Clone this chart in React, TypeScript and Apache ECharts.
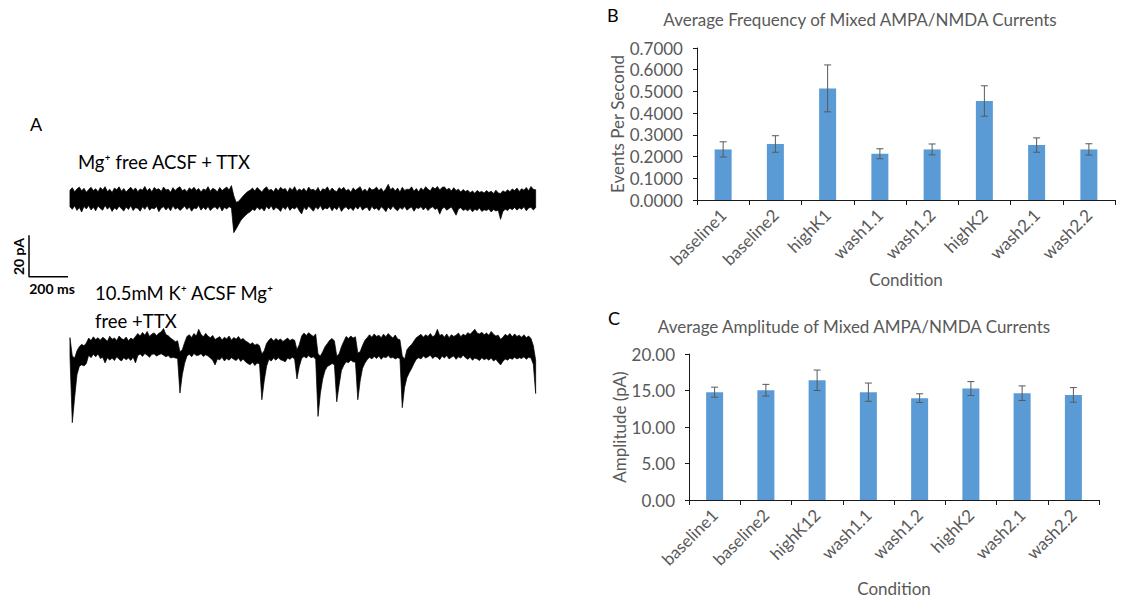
import React, { useEffect, useRef } from 'react';
import * as echarts from 'echarts';

// ---------- Panel B data ----------
const CONDITIONS_B = ['baseline1', 'baseline2', 'highK1', 'wash1.1', 'wash1.2', 'highK2', 'wash2.1', 'wash2.2'];
const FREQ_MEAN = [0.233, 0.258, 0.514, 0.213, 0.233, 0.456, 0.253, 0.233];
const FREQ_ERR = [0.035, 0.038, 0.108, 0.023, 0.025, 0.07, 0.033, 0.026];
const FREQ_MIN = 0;
const FREQ_MAX = 0.7;
const FREQ_STEP = 0.1;

// ---------- Panel C data ----------
const CONDITIONS_C = ['baseline1', 'baseline2', 'highK12', 'wash1.1', 'wash1.2', 'highK2', 'wash2.1', 'wash2.2'];
const AMP_MEAN = [14.77, 15.04, 16.4, 14.77, 13.95, 15.27, 14.63, 14.4];
const AMP_ERR = [0.69, 0.8, 1.4, 1.25, 0.6, 0.95, 1.0, 1.0];
const AMP_MIN = 0;
const AMP_MAX = 20;
const AMP_STEP = 5;

// ---------- Panel A traces: one sample every TRACE_STEP_MS, lower / upper edge of the noise band (pA) ----------
const TRACE_STEP_MS = 12;

const MG_FREE_HI = [
  4.6, 5.8, 3.9, 5.2, 6.1, 4.3, 5.5, 3.6, 4.9, 6.0,
  4.4, 5.3, 3.8, 5.9, 4.7, 6.3, 4.0, 5.1, 3.5, 5.6,
  4.8, 6.2, 4.1, 5.4, 3.7, 5.0, 6.0, 4.5, 5.7, 3.9,
  5.2, 4.6, 6.4, 4.2, 5.5, 3.8, 5.9, 4.9, 5.3, 4.0,
  6.1, 4.7, 5.0, 3.6, 5.8, 4.4, 5.6, 6.2, 4.3, 5.1,
  3.9, 5.7, 4.8, 6.0, 4.5, 5.4, 3.7, 5.2, 4.6, 6.3,
  4.1, 5.5, 4.9, 3.8, 5.9, 4.4, 5.3, 6.1, 4.7, 6.8,
  2.0, -1.2, -0.8, 0.5, 1.8, 3.0, 4.0, 4.6, 5.6, 4.2,
  5.9, 4.8, 3.7, 5.3, 6.2, 4.5, 5.0, 3.9, 5.7, 4.3,
  6.0, 4.9, 5.4, 3.6, 5.8, 4.6, 6.3, 4.0, 5.2, 4.4,
  5.5, 3.8, 6.1, 4.7, 5.0, 4.2, 5.9, 3.7, 5.3, 4.8,
  6.2, 4.1, 5.6, 4.5, 3.9, 5.8, 4.9, 6.0, 4.3, 5.1,
  3.6, 5.7, 4.6, 5.4, 6.3, 4.0, 5.2, 3.8, 5.9, 4.7,
  5.0, 6.1, 4.4, 5.5, 3.9, 5.3, 7.4, 4.8, 5.8, 4.2,
  5.6, 3.7, 6.0, 4.5, 5.1, 4.9, 6.2, 4.1, 5.4, 3.8,
  5.7, 4.6, 6.3, 5.0, 4.3, 6.1, 5.2, 6.4, 4.7, 5.9,
  6.2, 4.8, 5.5, 4.2, 5.8, 4.4, 5.1, 3.7, 4.9, 4.0,
  4.6, 3.4, 4.2, 3.1, 4.5, 3.6, 4.0, 3.2, 4.4, 3.5,
  4.1, 3.0, 4.6, 3.3, 3.0, 4.3, 3.6, 4.8, 3.9, 5.2,
  4.4, 5.6, 4.0, 5.3, 4.6, 5.9, 4.3, 6.4, 5.0, 4.8,
];
const MG_FREE_LO = [
  -3.4, -4.6, -2.9, -5.1, -3.7, -5.9, -3.2, -4.4, -2.8, -4.9,
  -3.6, -5.3, -3.0, -4.2, -5.0, -2.7, -4.5, -3.3, -5.6, -3.9,
  -4.8, -3.1, -4.3, -5.4, -3.5, -4.7, -2.9, -5.2, -3.8, -4.1,
  -5.5, -3.4, -4.6, -2.8, -5.0, -3.9, -4.4, -3.2, -5.7, -4.0,
  -3.3, -4.9, -3.6, -5.3, -2.9, -4.5, -3.8, -5.1, -4.2, -3.0,
  -4.7, -3.5, -5.5, -3.9, -4.3, -2.8, -5.0, -3.6, -4.8, -3.2,
  -5.2, -4.0, -3.4, -4.6, -3.1, -5.4, -3.7, -4.4, -3.3, -4.0,
  -15.8, -14.0, -12.0, -10.0, -8.6, -7.5, -6.5, -5.8, -4.6, -5.2,
  -3.5, -4.8, -3.9, -5.4, -3.2, -4.5, -2.9, -5.0, -3.7, -4.3,
  -5.6, -3.4, -4.7, -3.0, -5.1, -3.8, -4.4, -3.3, -5.3, -6.8,
  -3.6, -4.9, -3.1, -4.2, -5.5, -3.5, -4.6, -2.8, -5.0, -3.9,
  -4.4, -3.2, -5.3, -3.7, -4.8, -3.0, -5.6, -4.1, -3.4, -4.7,
  -3.8, -5.2, -3.3, -4.5, -2.9, -5.0, -4.0, -3.6, -5.4, -3.1,
  -4.6, -3.9, -5.1, -3.4, -4.3, -5.7, -3.5, -4.8, -3.0, -4.4,
  -5.3, -3.7, -4.6, -3.2, -5.0, -4.1, -3.5, -5.5, -3.8, -4.2,
  -3.3, -4.9, -3.6, -5.2, -4.0, -3.4, -4.7, -3.9, -6.9, -4.3,
  -3.6, -5.0, -4.2, -3.5, -5.4, -7.4, -4.4, -3.8, -5.1, -4.6,
  -5.3, -4.2, -5.8, -4.6, -5.1, -4.0, -5.6, -4.8, -5.2, -4.4,
  -5.9, -4.7, -5.4, -5.0, -9.4, -5.6, -4.5, -5.2, -4.1, -4.8,
  -3.7, -5.0, -3.9, -4.6, -3.4, -5.3, -4.0, -3.6, -4.9, -3.8,
];

const HIGH_K_HI = [
  4.8, -4.0, -5.0, -1.5, 0.5, 1.6, 0.9, 2.2, 4.6, 3.4,
  5.2, 3.9, 4.8, 3.6, 5.0, 4.2, 3.1, 5.5, 4.0, 4.7,
  3.4, 5.6, 4.4, 3.8, 5.1, 3.3, 4.6, 3.9, 5.4, 6.8,
  5.6, 7.3, 6.0, 7.8, 5.4, 6.6, 7.1, 5.8, 6.9, 7.6,
  9.2, 6.3, 5.7, 4.6, 3.8, 2.9, 3.3, -2.0, -1.0, 2.5,
  5.4, 6.2, 4.9, 6.8, 5.6, 8.8, 6.4, 5.2, 6.9, 5.5,
  4.8, 5.9, 3.9, 4.6, 5.3, 3.7, 5.0, 4.2, 5.6, 3.6,
  4.9, 4.1, 5.4, 3.8, 4.4, 3.2, 2.6, 1.6, 2.4, 1.2,
  1.8, 0.9, -3.0, -1.5, 2.0, 3.6, 4.6, 3.2, 4.4, 3.5,
  4.2, 3.0, 3.8, 4.6, 3.4, 4.1, 3.6, -1.0, 1.5, 5.6,
  7.0, 5.8, 7.2, 6.2, 5.4, 6.6, -3.0, -4.0, -2.0, 0.5,
  2.0, 3.6, 4.4, 3.2, -4.0, -3.0, 0.5, 3.0, 5.4, 4.4,
  5.6, 4.6, 5.2, -2.5, -2.0, 1.0, 3.5, 4.8, 6.2, 5.0,
  6.6, 5.4, 6.0, 4.8, 6.5, 5.3, 6.8, 5.6, 4.6, 6.1,
  4.2, 3.8, -4.0, -5.5, -1.0, 0.5, 1.5, 3.2, 4.8, 5.6,
  6.4, 5.0, 6.2, 5.4, 6.8, 5.2, 6.0, 8.8, 5.8, 6.4,
  5.0, 6.6, 4.8, 6.2, 5.4, 6.0, 7.0, 5.3, 6.5, 5.8,
  7.2, 6.4, 7.6, 8.8, 7.0, 6.6, 7.4, 6.2, 7.0, 6.0,
  7.8, 6.4, 5.6, 6.0, 4.0, 5.0, 6.4, 5.6, 6.8, 5.2,
  6.6, 5.4, 6.0, 5.0, 6.2, 4.8, 5.6, 4.4, 1.0, -6.0,
];
const HIGH_K_LO = [
  -4.0, -36.0, -24.0, -13.0, -9.0, -8.2, -8.8, -7.6, -3.6, -4.8,
  -3.2, -4.4, -3.0, -5.2, -4.6, -7.3, -4.8, -6.0, -5.0, -6.2,
  -4.4, -5.6, -6.4, -4.8, -5.8, -5.0, -6.1, -4.6, -7.3, -3.8,
  -3.0, -4.2, -2.8, -3.6, -4.6, -3.2, -3.0, -4.0, -3.4, -2.9,
  -3.6, -4.4, -3.8, -5.0, -4.6, -4.9, -5.2, -21.8, -13.0, -7.5,
  -4.0, -3.2, -4.4, -2.8, -3.8, -3.6, -2.9, -4.2, -3.4, -4.0,
  -5.0, -6.0, -8.3, -5.4, -5.8, -4.6, -6.4, -5.2, -6.0, -4.8,
  -5.6, -6.2, -5.0, -6.6, -5.4, -6.8, -7.6, -8.2, -7.0, -8.6,
  -7.4, -7.8, -25.0, -16.0, -9.0, -5.6, -6.4, -5.0, -6.0, -4.8,
  -5.8, -6.2, -6.8, -5.0, -5.6, -4.6, -5.4, -15.0, -9.0, -5.2,
  -4.2, -5.0, -3.8, -4.8, -4.4, -5.6, -33.0, -22.0, -15.0, -11.0,
  -9.0, -8.4, -7.6, -8.2, -26.0, -18.0, -11.0, -8.5, -6.8, -7.2,
  -6.0, -6.8, -7.0, -25.0, -16.0, -10.0, -7.5, -5.8, -4.6, -5.4,
  -4.2, -5.2, -4.0, -5.6, -4.4, -4.8, -3.8, -5.0, -4.6, -5.4,
  -4.8, -5.2, -28.8, -19.0, -14.4, -12.0, -10.0, -7.6, -5.6, -4.8,
  -5.4, -4.0, -5.0, -4.4, -3.6, -5.2, -4.2, -4.6, -5.8, -4.0,
  -5.0, -3.8, -5.4, -4.6, -4.0, -5.6, -4.4, -5.0, -3.6, -4.8,
  -5.6, -4.6, -6.0, -5.0, -5.4, -6.2, -4.8, -5.8, -5.2, -6.0,
  -5.0, -6.4, -5.6, -7.0, -8.3, -6.6, -5.4, -6.0, -5.0, -5.6,
  -4.6, -5.4, -4.8, -5.2, -4.4, -5.6, -4.6, -5.0, -8.0, -22.0,
];

// vertical display offset of the upper trace (pA) and scale bar
const MG_FREE_OFFSET = 71;
const SCALE_BAR_MS = 200;
const SCALE_BAR_PA = 20;
const SCALE_BAR_ORIGIN = [-210, 34];

const FONT = 'Lato, "Liberation Sans", sans-serif';
const GREY = '#595959';
const AXIS_COLOR = '#1a1a1a';
const BAR_BLUE = '#5B9BD5';

function traceSeries(lo: number[], hi: number[], offset: number) {
  return {
    type: 'custom',
    xAxisIndex: 0,
    yAxisIndex: 0,
    silent: true,
    clip: false,
    data: lo.map((v, i) => [i * TRACE_STEP_MS, v + offset, hi[i] + offset]),
    renderItem: (params: any, api: any) => {
      if (params.dataIndex !== 0) return null;
      const top = hi.map((v, i) => api.coord([i * TRACE_STEP_MS, v + offset]));
      const bottom = lo.map((v, i) => api.coord([i * TRACE_STEP_MS, v + offset])).reverse();
      return {
        type: 'polygon',
        shape: { points: top.concat(bottom) },
        style: { fill: '#000', stroke: '#000', lineWidth: 0.7 },
      };
    },
  };
}

function errorSeries(means: number[], errs: number[], axisIndex: number) {
  return {
    type: 'custom',
    xAxisIndex: axisIndex,
    yAxisIndex: axisIndex,
    silent: true,
    z: 10,
    data: means.map((m, i) => [i, m - errs[i], m + errs[i]]),
    encode: { x: 0, y: [1, 2] },
    renderItem: (_params: any, api: any) => {
      const x = api.value(0);
      const lo = api.coord([x, api.value(1)]);
      const hi = api.coord([x, api.value(2)]);
      const w = 3.5;
      const style = { stroke: GREY, lineWidth: 1 };
      return {
        type: 'group',
        children: [
          { type: 'line', shape: { x1: lo[0], y1: lo[1], x2: hi[0], y2: hi[1] }, style },
          { type: 'line', shape: { x1: lo[0] - w, y1: lo[1], x2: lo[0] + w, y2: lo[1] }, style },
          { type: 'line', shape: { x1: hi[0] - w, y1: hi[1], x2: hi[0] + w, y2: hi[1] }, style },
        ],
      };
    },
  };
}

function categoryAxis(gridIndex: number, data: string[], nameGap: number) {
  return {
    type: 'category',
    gridIndex,
    data,
    axisLine: { show: true, lineStyle: { color: AXIS_COLOR, width: 1 } },
    axisTick: { show: true, length: 5, lineStyle: { color: AXIS_COLOR, width: 1 } },
    axisLabel: { rotate: 45, fontSize: 17, color: GREY, margin: 12, fontFamily: FONT, interval: 0 },
    name: 'Condition',
    nameLocation: 'middle',
    nameGap,
    nameTextStyle: { fontSize: 17, color: GREY, fontFamily: FONT },
    splitLine: { show: false },
  };
}

function valueAxis(gridIndex: number, min: number, max: number, interval: number, digits: number, name: string, nameGap: number) {
  return {
    type: 'value',
    gridIndex,
    min,
    max,
    interval,
    axisLine: { show: true, lineStyle: { color: AXIS_COLOR, width: 1 } },
    axisTick: { show: true, length: 4, lineStyle: { color: AXIS_COLOR, width: 1 } },
    axisLabel: { fontSize: 17, color: GREY, margin: 14, fontFamily: FONT, formatter: (v: number) => v.toFixed(digits) },
    splitLine: { show: false },
    name,
    nameLocation: 'middle',
    nameRotate: 90,
    nameGap,
    nameTextStyle: { fontSize: 17, color: GREY, fontFamily: FONT },
  };
}

function txt(x: number, y: number, text: string, opts: any = {}) {
  return {
    type: 'text',
    x,
    y,
    rotation: opts.rotation || 0,
    silent: true,
    style: {
      text,
      fill: opts.fill || '#000',
      font: `${opts.weight || 'normal'} ${opts.size || 18}px ${FONT}`,
      textAlign: opts.align || 'left',
      textVerticalAlign: 'middle',
    },
  };
}

export default function App() {
  const ref = useRef<HTMLDivElement>(null);
  useEffect(() => {
    const chart = echarts.init(ref.current!, null, { renderer: 'svg' });
    const [sbT, sbV] = SCALE_BAR_ORIGIN;
    const option: any = {
      animation: false,
      backgroundColor: '#fff',
      grid: [
        { left: 29, top: 181, width: 509, height: 250 },
        { left: 697, top: 48, width: 418, height: 152 },
        { left: 689, top: 354, width: 410, height: 146 },
      ],
      xAxis: [
        { type: 'value', gridIndex: 0, min: -210, max: 2400, show: false },
        categoryAxis(1, CONDITIONS_B, 70),
        categoryAxis(2, CONDITIONS_C, 80),
      ],
      yAxis: [
        { type: 'value', gridIndex: 0, min: -40, max: 80, show: false },
        valueAxis(1, FREQ_MIN, FREQ_MAX, FREQ_STEP, 4, 'Events Per Second', 67),
        valueAxis(2, AMP_MIN, AMP_MAX, AMP_STEP, 2, 'Amplitude (pA)', 57),
      ],
      series: [
        traceSeries(MG_FREE_LO, MG_FREE_HI, MG_FREE_OFFSET),
        traceSeries(HIGH_K_LO, HIGH_K_HI, 0),
        {
          type: 'line',
          xAxisIndex: 0,
          yAxisIndex: 0,
          silent: true,
          symbol: 'none',
          lineStyle: { color: '#000', width: 1.5 },
          data: [
            [sbT + SCALE_BAR_MS, sbV],
            [sbT, sbV],
            [sbT, sbV + SCALE_BAR_PA],
          ],
        },
        {
          type: 'bar',
          xAxisIndex: 1,
          yAxisIndex: 1,
          data: FREQ_MEAN,
          barWidth: 17,
          itemStyle: { color: BAR_BLUE },
          silent: true,
        },
        errorSeries(FREQ_MEAN, FREQ_ERR, 1),
        {
          type: 'bar',
          xAxisIndex: 2,
          yAxisIndex: 2,
          data: AMP_MEAN,
          barWidth: 17,
          itemStyle: { color: BAR_BLUE },
          silent: true,
        },
        errorSeries(AMP_MEAN, AMP_ERR, 2),
      ],
      graphic: [
        txt(30, 124, 'A', { size: 18 }),
        txt(78, 162, 'Mg⁺ free ACSF + TTX', { size: 18.5 }),
        txt(95, 293, '10.5mM K⁺ ACSF Mg⁺', { size: 18.5 }),
        txt(95, 321, 'free +TTX', { size: 18.5 }),
        txt(18, 256.5, '20 pA', { size: 14, weight: 'bold', align: 'center', rotation: Math.PI / 2 }),
        txt(52, 288, '200 ms', { size: 14, weight: 'bold', align: 'center' }),
        txt(607, 15, 'B', { size: 18 }),
        txt(608, 318, 'C', { size: 18 }),
        txt(860, 19, 'Average Frequency of Mixed AMPA/NMDA Currents', { size: 17, fill: GREY, align: 'center' }),
        txt(854, 326, 'Average Amplitude of Mixed AMPA/NMDA Currents', { size: 17, fill: GREY, align: 'center' }),
      ],
    };
    chart.setOption(option);
    return () => chart.dispose();
  }, []);
  return <div ref={ref} style={{ position: 'fixed', left: 0, top: 0, width: 1122, height: 601 }} />;
}
